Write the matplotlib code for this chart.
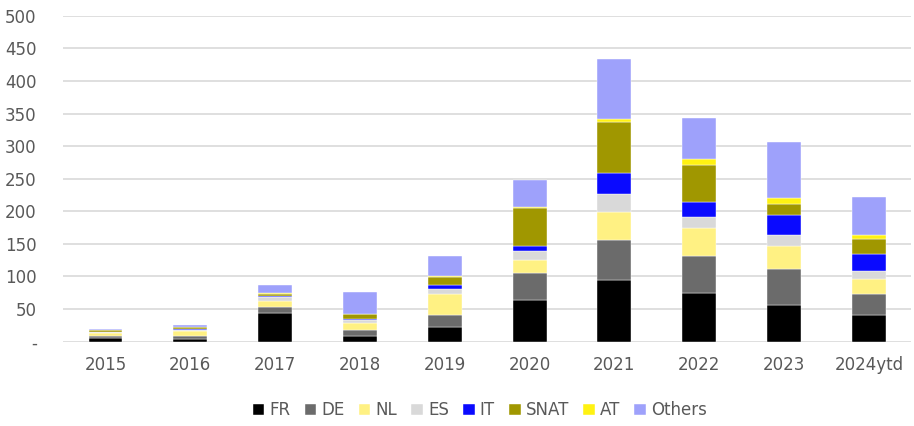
import matplotlib
matplotlib.use("Agg")
import matplotlib.pyplot as plt
import numpy as np

years = ["2015", "2016", "2017", "2018", "2019", "2020", "2021", "2022", "2023", "2024ytd"]
FR     = [5,   4.5, 44.5, 9,   23,  64.5, 95,   74, 56, 41]
DE     = [4,   4.5, 8,    9,   18,  41,   61,   57, 55, 32]
NL     = [5,   8,   10,   10,  31.5,19.5, 43.5, 43, 36, 23]
ES     = [1,   1.5, 6,    5,   9,   14,   27.5, 17, 16, 13]
IT     = [0.3, 0.3, 2,    2,   5.5, 7,    31,   24, 31, 25]
SNAT   = [2,   3.5, 3,    7,   12,  59,   79,   56, 17, 24]
AT     = [0.5, 0.5, 0.5,  0.5, 1.5, 1,    4,    9,  10, 6]
Others = [2,   3.5, 12.5, 34,  31,  42,   93,   63, 86, 58]

series = [("FR", FR, "#000000"), ("DE", DE, "#6b6b6b"), ("NL", NL, "#fff183"),
          ("ES", ES, "#d9d9d9"), ("IT", IT, "#0a0aff"), ("SNAT", SNAT, "#a09700"),
          ("AT", AT, "#fff212"), ("Others", Others, "#9ea1fb")]

plt.rcParams['font.family'] = ['DejaVu Sans']
fig = plt.figure(figsize=(9.14, 4.26), dpi=100)
ax = fig.add_axes([0.069, 0.198, 0.928, 0.765])

x = np.arange(len(years))
bottom = np.zeros(len(years))
handles = []
for name, vals, col in series:
    v = np.array(vals, dtype=float)
    h = ax.bar(x, v, 0.4, bottom=bottom, color=col, label=name, zorder=3,
               edgecolor="white", linewidth=0.3)
    bottom += v
    handles.append(h)

ax.set_ylim(0, 500)
ax.set_xlim(-0.5, len(years) - 0.5)
ax.set_yticks(np.arange(0, 501, 50))
ax.set_yticklabels(["-"] + [str(v) for v in range(50, 501, 50)])
ax.set_xticks(x)
ax.set_xticklabels(years)
ax.yaxis.grid(True, color="#d9d9d9", linewidth=1.2, zorder=0)
ax.set_axisbelow(True)
for s in ax.spines.values():
    s.set_visible(False)
ax.tick_params(axis="both", length=0, labelsize=12, colors="#595959")
ax.tick_params(axis="y", pad=19)
ax.tick_params(axis="x", pad=10)

leg = fig.legend(handles=handles, labels=[s[0] for s in series], loc="center",
                 bbox_to_anchor=(0.525, 0.037), ncol=8, frameon=False,
                 fontsize=12, handlelength=0.7, handleheight=0.7,
                 handletextpad=0.3, columnspacing=0.85)
for t in leg.get_texts():
    t.set_color("#595959")

fig.savefig("out.png", dpi=100)
